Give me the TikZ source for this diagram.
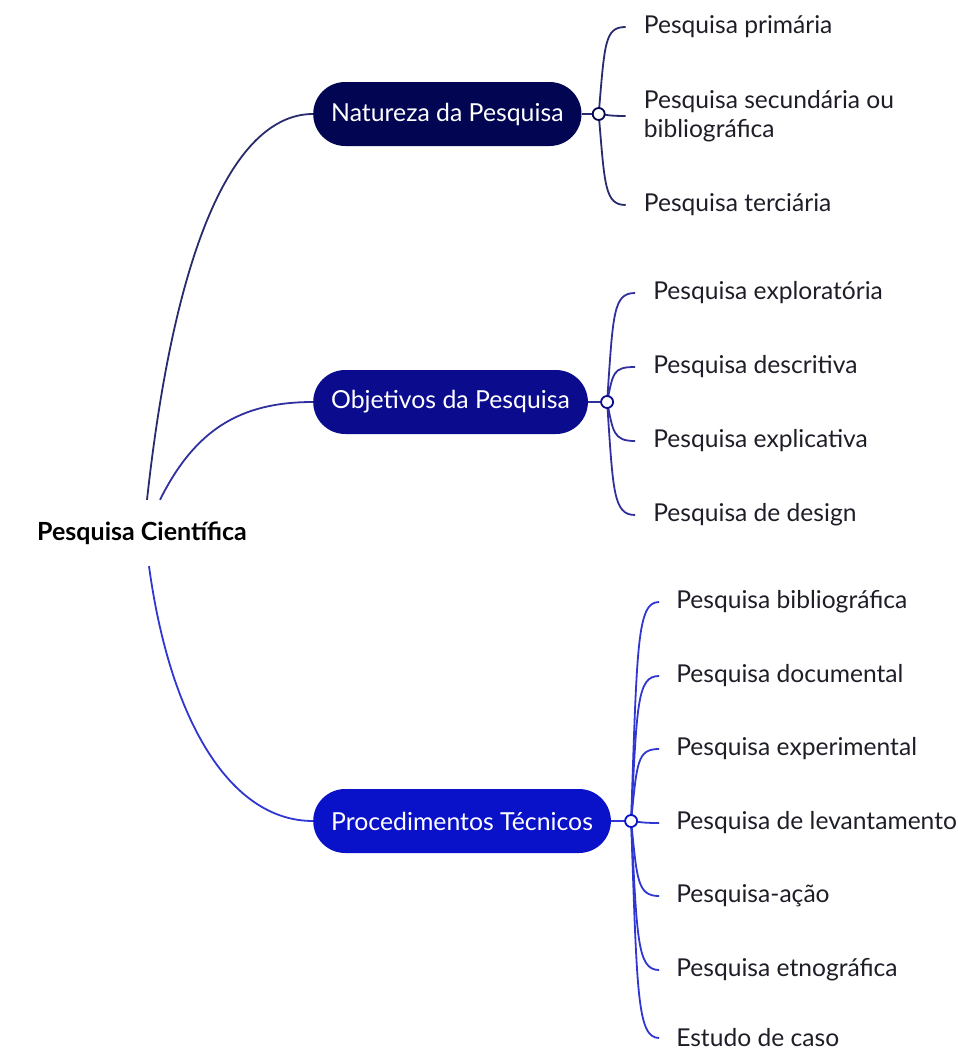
\documentclass[tikz,border=0pt]{standalone}
\usepackage{fontspec}
\setmainfont{Lato}
\usetikzlibrary{calc, positioning}

\definecolor{natcol}{HTML}{020652}
\definecolor{objcol}{HTML}{0B0B8E}
\definecolor{proccol}{HTML}{0A12C9}
\definecolor{leaftext}{HTML}{1E1E28}

\begin{document}
\begin{tikzpicture}[x=1pt, y=-1pt,
    topic/.style={fill=#1, text=white, rounded corners=32pt, minimum height=64pt,
        inner xsep=18pt, anchor=west, font=\fontsize{24.8}{28}\selectfont},
    leaf/.style={anchor=west, inner sep=0pt, align=left, text=leaftext, yshift=-2pt,
        font=\fontsize{24.6}{29}\selectfont},
    joint/.style={circle, draw=#1, fill=white, line width=1.8pt, inner sep=0pt, minimum size=12pt},
    branch/.style={draw=#1!85!white, line width=1.8pt},
]
\useasboundingbox (0,0) rectangle (958,1052);

% central topic
\node[font=\bfseries\fontsize{25}{29}\selectfont, inner sep=0pt, minimum height=66pt] (root) at (142,533) {Pesquisa Científica};

% main topics
\node[topic=natcol]  (nat)  at (313,114) {Natureza da Pesquisa};
\node[topic=objcol]  (obj)  at (313,402) {Objetivos da Pesquisa};
\node[topic=proccol] (proc) at (313,821) {Procedimentos Técnicos};

\coordinate (jnat)  at ([xshift=17pt]nat.east);
\coordinate (jobj)  at ([xshift=19pt]obj.east);
\coordinate (jproc) at ([xshift=20pt]proc.east);

% root to main topics
\draw[branch=natcol]  ([xshift=5pt]root.north) .. controls +(33,-300) and +(-63,0) .. (nat.west);
\draw[branch=objcol]  ([xshift=18pt]root.north) .. controls +(35,-70) and +(-73,0) .. (obj.west);
\draw[branch=proccol] ([xshift=7pt]root.south) .. controls +(21,154) and +(-83,0) .. (proc.west);

% leaves: natureza
\foreach \i/\dy/\txt in {1/-89/{Pesquisa primária},
                         2/0/{Pesquisa secundária ou\\bibliográfica},
                         3/89/{Pesquisa terciária}} {
  \node[leaf] (nat\i) at ($(jnat)+(45,\dy)$) {\txt};
  \draw[branch=natcol] (jnat) .. controls ($(jnat)+(6,0.8*\dy)$) and ($(nat\i.west)+(-39,0)$) .. ($(nat\i.west)+(-18,0)$);
}
% leaves: objetivos
\foreach \i/\dy/\txt in {1/-111/{Pesquisa exploratória},
                         2/-37/{Pesquisa descritiva},
                         3/37/{Pesquisa explicativa},
                         4/111/{Pesquisa de design}} {
  \node[leaf] (obj\i) at ($(jobj)+(46,\dy)$) {\txt};
  \draw[branch=objcol] (jobj) .. controls ($(jobj)+(6,0.8*\dy)$) and ($(obj\i.west)+(-40,0)$) .. ($(obj\i.west)+(-18,0)$);
}
% leaves: procedimentos
\foreach \i/\dy/\txt in {1/-221/{Pesquisa bibliográfica},
                         2/-147/{Pesquisa documental},
                         3/-74/{Pesquisa experimental},
                         4/0/{Pesquisa de levantamento},
                         5/73/{Pesquisa-ação},
                         6/147/{Pesquisa etnográfica},
                         7/215/{Estudo de caso}} {
  \node[leaf] (proc\i) at ($(jproc)+(45,\dy)$) {\txt};
  \draw[branch=proccol] (jproc) .. controls ($(jproc)+(6,0.8*\dy)$) and ($(proc\i.west)+(-39,0)$) .. ($(proc\i.west)+(-17,0)$);
}

% topic to joint
\draw[branch=natcol]  (nat.east)  -- (jnat);
\draw[branch=objcol]  (obj.east)  -- (jobj);
\draw[branch=proccol] (proc.east) -- (jproc);
\node[joint=natcol]  at (jnat)  {};
\node[joint=objcol]  at (jobj)  {};
\node[joint=proccol] at (jproc) {};
\end{tikzpicture}
\end{document}
